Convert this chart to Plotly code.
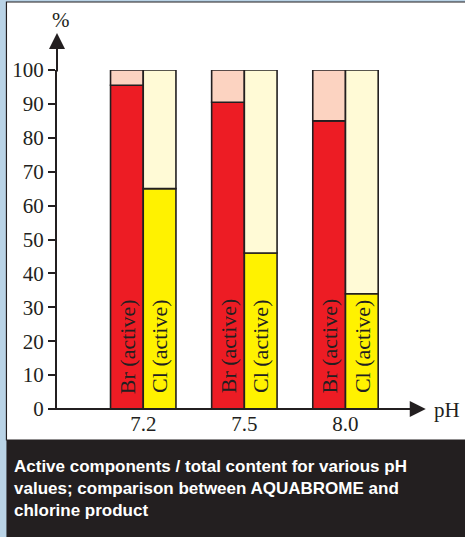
import plotly.graph_objects as go

ph_labels = ["7.2", "7.5", "8.0"]
br_active = [95.5, 90.5, 85.0]
cl_active = [65.0, 46.0, 34.0]
total = [100, 100, 100]
y_ticks = [0, 10, 20, 30, 40, 50, 60, 70, 80, 90, 100]

W, H = 465, 537
L, R, T, B = 54, 65, 70, 128
pw, ph = W - L - R, H - T - B

xpos = list(range(len(ph_labels)))
bw = 0.3235
x0 = -87 / 102
x1 = x0 + pw / 102

def px(p):
    return (p - L) / pw

def py(p):
    return (H - B - p) / ph

edge = dict(color="#231F20", width=1.6)
serif = "Liberation Serif, Times New Roman, serif"

fig = go.Figure()
fig.add_bar(x=xpos, y=br_active, base=0, width=bw, offset=-bw,
            marker=dict(color="#ED1C24", line=edge), name="Br active")
fig.add_bar(x=xpos, y=[t - v for t, v in zip(total, br_active)], base=br_active,
            width=bw, offset=-bw, marker=dict(color="#FCD3C1", line=edge), name="Br")
fig.add_bar(x=xpos, y=cl_active, base=0, width=bw, offset=0,
            marker=dict(color="#FFF200", line=edge), name="Cl active")
fig.add_bar(x=xpos, y=[t - v for t, v in zip(total, cl_active)], base=cl_active,
            width=bw, offset=0, marker=dict(color="#FFFAD6", line=edge), name="Cl")

annotations = []
for i in xpos:
    annotations.append(dict(x=i - bw / 2, y=18.5, xref="x", yref="y", text="Br (active)",
                            textangle=-90, showarrow=False, xanchor="center", yanchor="middle",
                            font=dict(family=serif, size=22, color="#231F20")))
    annotations.append(dict(x=i + bw / 2, y=18.5, xref="x", yref="y", text="Cl (active)",
                            textangle=-90, showarrow=False, xanchor="center", yanchor="middle",
                            font=dict(family=serif, size=22, color="#231F20")))

# axis arrows
annotations.append(dict(x=0, y=py(33), xref="paper", yref="paper", ax=0, ay=40,
                        text="", showarrow=True, arrowhead=2, arrowsize=1.6,
                        arrowwidth=2, arrowcolor="#231F20"))
annotations.append(dict(x=px(426), y=0, xref="paper", yref="paper", ax=-30, ay=0,
                        text="", showarrow=True, arrowhead=2, arrowsize=1.6,
                        arrowwidth=2, arrowcolor="#231F20"))
annotations.append(dict(x=px(58), y=py(20), xref="paper", yref="paper", text="%",
                        showarrow=False, xanchor="center", yanchor="middle",
                        font=dict(family=serif, size=21, color="#231F20")))
annotations.append(dict(x=px(432), y=py(410), xref="paper", yref="paper", text="pH",
                        showarrow=False, xanchor="left", yanchor="middle",
                        font=dict(family=serif, size=21, color="#231F20")))
annotations.append(dict(x=px(9), y=py(455), xref="paper", yref="paper",
                        xanchor="left", yanchor="top", align="left", showarrow=False,
                        text="Active components / total content for various pH<br>"
                             "values; comparison between AQUABROME and<br>chlorine product",
                        font=dict(family="Liberation Sans Narrow, Arial Narrow, Liberation Sans, sans-serif",
                                  size=17, color="white", weight="bold")))

shapes = [
    dict(type="rect", xref="paper", yref="paper", x0=px(3), x1=px(467), y0=py(440), y1=py(2),
         fillcolor="white", line=dict(color="#231F20", width=1.2), layer="below"),
    dict(type="rect", xref="paper", yref="paper", x0=px(3), x1=px(467), y0=py(540), y1=py(440),
         fillcolor="#231F20", line=dict(width=0), layer="below"),
    # x axis extension to the left of y axis
    dict(type="line", xref="paper", yref="paper", x0=px(46), x1=px(400), y0=0, y1=0,
         line=dict(color="#231F20", width=2)),
]

fig.update_layout(
    width=W, height=H, margin=dict(l=L, r=R, t=T, b=B),
    paper_bgcolor="#B9D3E6", plot_bgcolor="rgba(0,0,0,0)",
    barmode="overlay", showlegend=False, hovermode=False,
    annotations=annotations, shapes=shapes,
    xaxis=dict(range=[x0, x1], tickvals=xpos, ticktext=ph_labels, showgrid=False,
               zeroline=False, showline=False, ticks="",
               tickfont=dict(family=serif, size=21, color="#231F20")),
    yaxis=dict(range=[0, 100], tickvals=y_ticks, showgrid=False, zeroline=False,
               showline=True, linecolor="#231F20", linewidth=2, ticks="outside",
               ticklen=7, tickwidth=1.5, tickcolor="#231F20",
               tickfont=dict(family=serif, size=21, color="#231F20")),
)

fig.write_html("out.html", config={"displayModeBar": False},
               post_script="document.body.style.margin='0';document.body.style.overflow='hidden';")
